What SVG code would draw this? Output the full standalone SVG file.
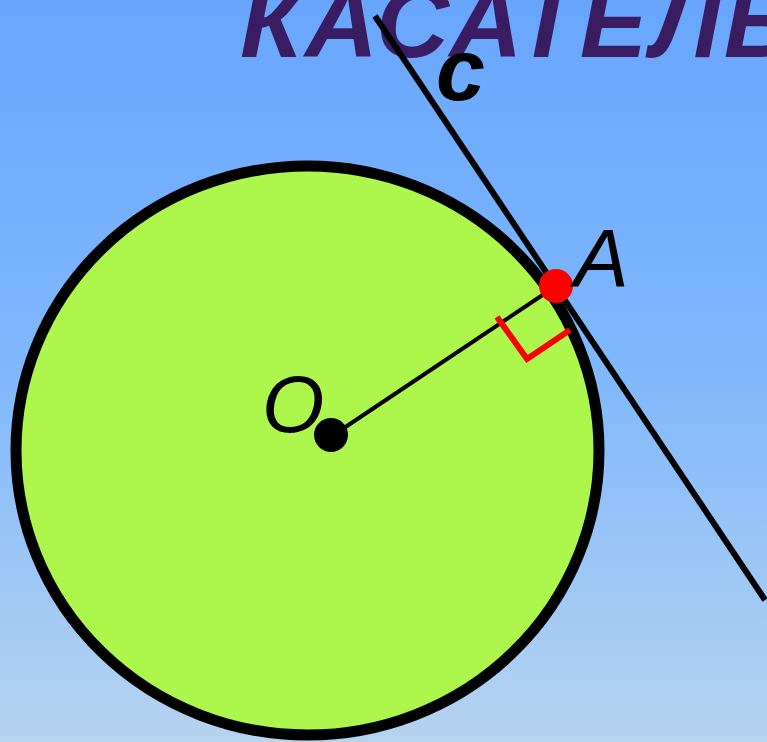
<svg xmlns="http://www.w3.org/2000/svg" width="767" height="742" viewBox="0 0 767 742">
<defs>
<linearGradient id="bg" x1="0" y1="0" x2="0" y2="1">
<stop offset="0" stop-color="#68a6fe"/>
<stop offset="0.5" stop-color="#80b8fc"/>
<stop offset="1" stop-color="#b6d3ef"/>
</linearGradient>
<style>
.lbl{font-family:"Liberation Sans",Arial,sans-serif;font-style:italic;fill:#000}
</style>
</defs>
<rect width="767" height="742" fill="url(#bg)"/>
<text x="240" y="57" font-family="Liberation Sans, Arial, sans-serif" font-weight="bold" font-style="italic" font-size="101" letter-spacing="3" fill="#3a1c62">КАСАТЕЛЬНАЯ</text>
<g id="circle">
<ellipse cx="307.5" cy="450.5" rx="291.5" ry="284.5" fill="#adf64b" stroke="#000" stroke-width="11"/>
</g>
<g id="connectors">
<line id="tangent-c" x1="375" y1="16" x2="765" y2="600" stroke="#000" stroke-width="6"/>
<line id="radius-OA" x1="332" y1="436" x2="556" y2="286" stroke="#000" stroke-width="4"/>
<polyline id="right-angle" points="497,317 527,359 570,330" fill="none" stroke="#f00" stroke-width="6"/>
</g>
<g id="point-A">
<circle cx="556" cy="286" r="17" fill="#f00"/>
<text class="lbl" x="574" y="286" font-size="82">A</text>
</g>
<g id="point-O">
<circle cx="331" cy="435" r="17" fill="#000"/>
<text class="lbl" x="262" y="432" font-size="80">O</text>
</g>
<g id="label-c">
<text class="lbl" x="436" y="100" font-size="88" font-weight="bold">c</text>
</g>
</svg>
